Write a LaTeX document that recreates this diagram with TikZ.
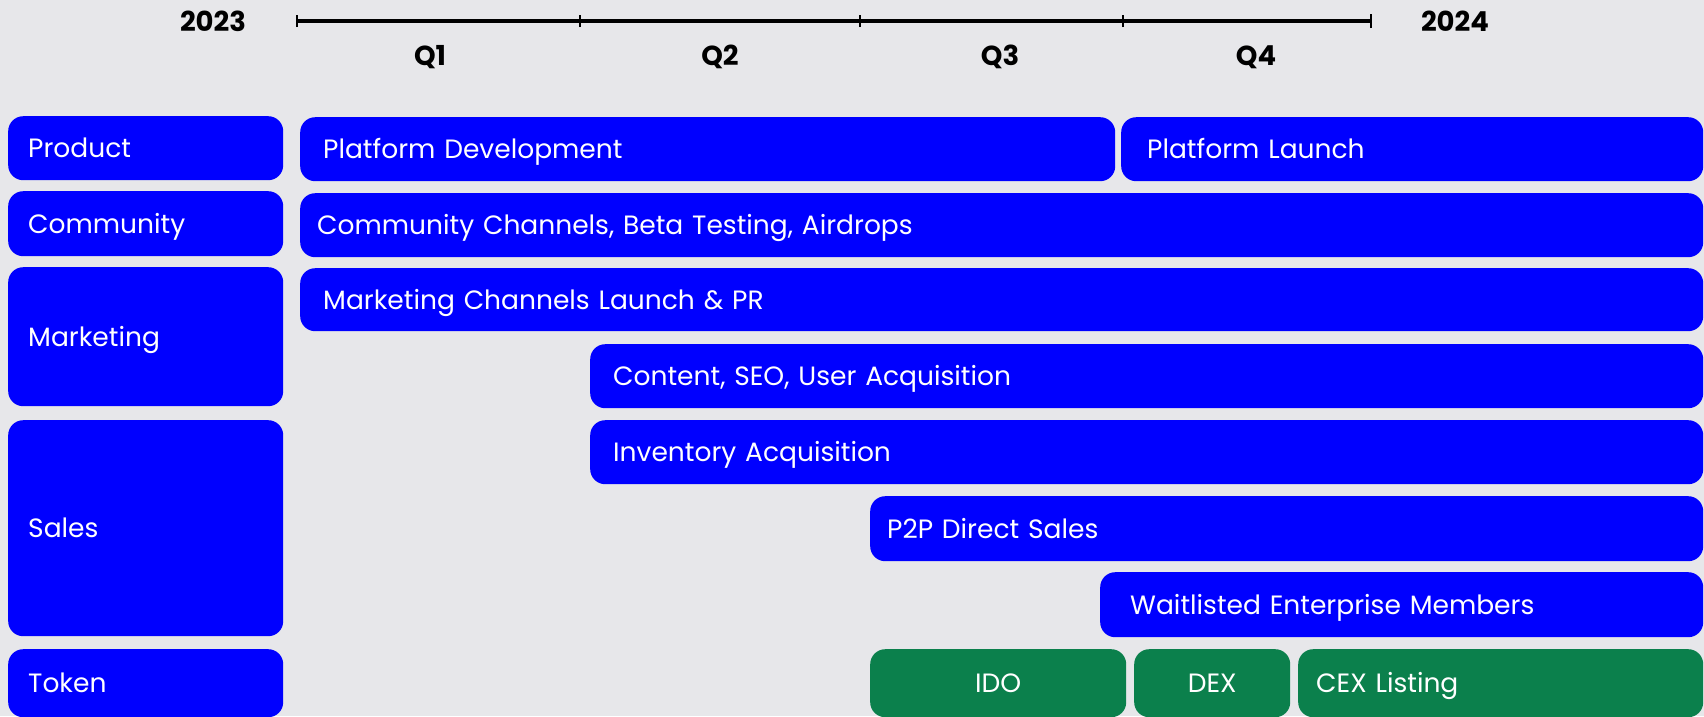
\documentclass[tikz,border=0pt]{standalone}
\usepackage{fontspec}
\setmainfont{Poppins}
\definecolor{laneblue}{HTML}{0000FF}
\definecolor{tokengreen}{HTML}{0B804C}
\definecolor{paper}{HTML}{E7E7EA}
\begin{document}
\begin{tikzpicture}[x=1pt,y=-1pt,
  every node/.style={inner ysep=0pt},
  lane/.style={fill=laneblue,text=white,rounded corners=15pt,anchor=north west,align=left,
    text height=21pt,text depth=1.5pt,font=\fontsize{26.5}{30}\selectfont},
  tokbox/.style={fill=tokengreen,text=white,rounded corners=15pt,anchor=north west,align=center,
    text height=21pt,text depth=1.5pt,font=\fontsize{26.5}{30}\selectfont},
  year/.style={font=\bfseries\fontsize{27.5}{31}\selectfont},
  quarter/.style={font=\bfseries\fontsize{27.5}{31}\selectfont}]
\clip (0,0) rectangle (1704,716);
\fill [paper] (0,0) rectangle (1704,716);
% timeline
\coordinate (t0) at (297,21);
\coordinate (t1) at (580,21);
\coordinate (t2) at (860,21);
\coordinate (t3) at (1123,21);
\coordinate (t4) at (1371,21);
\draw [line width=3.5pt] (t0) -- (t4);
\foreach \t in {t0,t1,t2,t3}
  \draw [line width=2pt] ([yshift=-6pt]\t) -- ([yshift=6pt]\t);
\draw [line width=1.2pt] ([yshift=-7pt]t4) -- ([yshift=7pt]t4);
\node [year] (y2023) at (213,21) {2023};
\node [year] (y2024) at (1455,21) {2024};
\node [quarter] (q1) at (430,57) {Q1};
\node [quarter] (q2) at (720,57) {Q2};
\node [quarter] (q3) at (1000,57) {Q3};
\node [quarter] (q4) at (1256,57) {Q4};
% row labels
\node [lane,minimum height=64pt,text width=235pt,inner xsep=20pt] (product) at (8,116) {Product};
\node [lane,minimum height=65pt,text width=235pt,inner xsep=20pt] (community) at (8,191) {Community};
\node [lane,minimum height=139pt,text width=235pt,inner xsep=20pt] (marketing) at (8,267) {Marketing};
\node [lane,minimum height=216pt,text width=235pt,inner xsep=20pt] (sales) at (8,420) {Sales};
\node [lane,minimum height=68pt,text width=235pt,inner xsep=20pt] (token) at (8,649) {Token};
% product
\node [lane,minimum height=64pt,text width=769pt,inner xsep=23pt] (develop) at (300,117) {Platform Development};
\node [lane,minimum height=64pt,text width=530pt,inner xsep=26pt] (launch) at (1121,117) {Platform Launch};
% community
\node [lane,minimum height=64pt,text width=1369pt,inner xsep=17pt] (channels) at (300,193) {Community Channels, Beta Testing, Airdrops};
% marketing
\node [lane,minimum height=63pt,text width=1357pt,inner xsep=23pt] (pr) at (300,268) {Marketing Channels Launch \& PR};
\node [lane,minimum height=64pt,text width=1067pt,inner xsep=23pt] (seo) at (590,344) {Content, SEO, User Acquisition};
% sales
\node [lane,minimum height=64pt,text width=1067pt,inner xsep=23pt] (inventory) at (590,420) {Inventory Acquisition};
\node [lane,minimum height=65pt,text width=799pt,inner xsep=17pt] (direct) at (870,496) {P2P Direct Sales};
\node [lane,minimum height=65pt,text width=543pt,inner xsep=30pt] (waitlist) at (1100,572) {Waitlisted Enterprise Members};
% token
\node [tokbox,minimum height=68pt,minimum width=256pt] (ido) at (870,649) {IDO};
\node [tokbox,minimum height=68pt,minimum width=156pt] (dex) at (1134,649) {DEX};
\node [tokbox,minimum height=68pt,text width=369pt,inner xsep=18pt,align=left] (cex) at (1298,649) {CEX Listing};
\end{tikzpicture}
\end{document}
